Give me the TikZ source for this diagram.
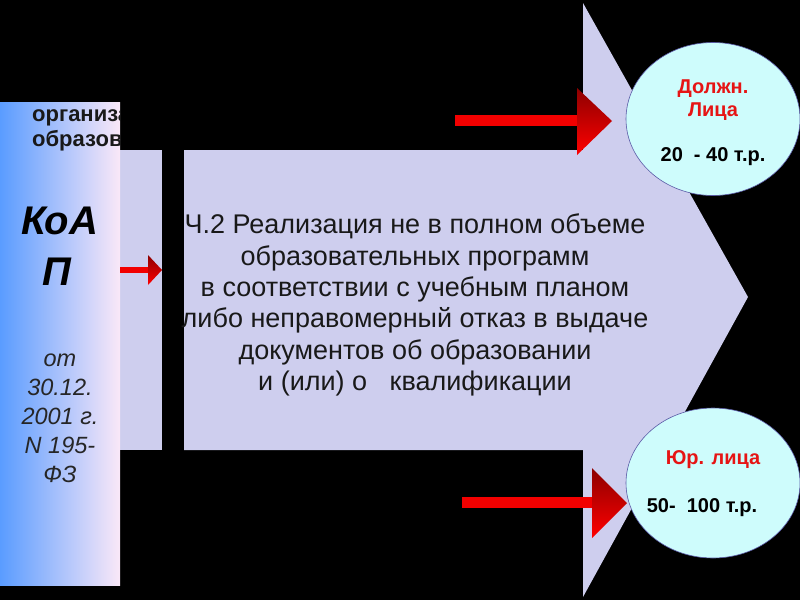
\documentclass[tikz,border=0pt]{standalone}
\usepackage{fontspec}
\setmainfont{Liberation Sans}
\usetikzlibrary{shapes.geometric}
\definecolor{lav}{RGB}{206,206,238}
\definecolor{cyanfill}{RGB}{206,252,252}
\definecolor{redtxt}{RGB}{230,20,20}
\definecolor{blueL}{RGB}{90,156,255}
\definecolor{blueM}{RGB}{140,200,255}
\definecolor{pinkR}{RGB}{250,232,248}
\tikzset{
  ovalbox/.style={ellipse, draw=gray!70!blue, line width=0.6pt, fill=cyanfill, minimum width=174pt, minimum height=153pt, inner sep=0pt},
  redshaft/.style={fill=red!95!black, draw=none},
  redhead/.style={left color=red!55!black, right color=red, draw=none, shading angle=0},
  lbl/.style={inner sep=0pt, align=center},
}
\begin{document}
\begin{tikzpicture}[x=1pt,y=-1pt]
\useasboundingbox (0,0) rectangle (800,600);
\fill[black] (0,0) rectangle (800,600);
% big lavender arrow
\fill[lav] (184,150) -- (583,150) -- (583,3) -- (748,297) -- (583,597) -- (583,450) -- (184,450) -- cycle;
% left lavender strip
\fill[lav] (120,150) rectangle (162,450);
% gradient left panel
\shade[left color=blueL, middle color=blueM, right color=pinkR] (0,102) rectangle (120,585);
\begin{scope}
\clip (0,102) rectangle (120,585);
\node[lbl, anchor=base west, font=\bfseries\fontsize{22}{26}\selectfont, text=black!90] (org) at (32,121) {организа};
\node[lbl, anchor=base west, font=\bfseries\fontsize{22}{26}\selectfont, text=black!90] (obr) at (32,146) {образов};
\end{scope}
\node[lbl, font=\bfseries\itshape\fontsize{40}{44}\selectfont] (koap) at (60,221) {КоА};
\node[lbl, font=\bfseries\itshape\fontsize{40}{44}\selectfont] (p) at (57,272) {П};
\node[lbl, font=\itshape\fontsize{23.5}{29}\selectfont, text=black!85] (law) at (60,418) {от\\30.12.\\2001 г.\\N 195-\\ФЗ};
% main text
\node[lbl, font=\fontsize{27}{31.3}\selectfont, text=black!90] (main) at (415,305) {Ч.2 Реализация не в полном объеме\\образовательных программ\\в соответствии с учебным планом\\либо неправомерный отказ в выдаче\\документов об образовании\\и (или) о \ \ квалификации};
% small red arrow
\coordinate (sa) at (120,270);
\fill[redshaft] (sa) ++(0,-3) rectangle (148,273);
\shade[redhead] (148,255) -- (162,270) -- (148,285) -- cycle;
% ovals
\node[ovalbox] (dl) at (713,119) {};
\node[ovalbox, minimum height=150pt] (yl) at (713,483) {};
\node[lbl, font=\bfseries\fontsize{20}{23}\selectfont, text=redtxt] (dlt) at (713,100) {Должн.\\Лица};
\node[lbl, font=\bfseries\fontsize{20}{23}\selectfont] (dlm) at (713,157) {20 \ - 40 т.р.};
\node[lbl, font=\bfseries\fontsize{20}{23}\selectfont, text=redtxt] (ylt) at (713,460) {Юр. лица};
\node[lbl, font=\bfseries\fontsize{20}{23}\selectfont] (ylm) at (702,508) {50- \ 100 т.р.};
% top red arrow
\fill[redshaft] (455,115) rectangle (578,126);
\shade[redhead] (577,88) -- (612,121) -- (577,155) -- cycle;
% bottom red arrow
\fill[redshaft] (462,497) rectangle (593,508);
\shade[redhead] (592,468) -- (627,503) -- (592,538) -- cycle;
\end{tikzpicture}
\end{document}
